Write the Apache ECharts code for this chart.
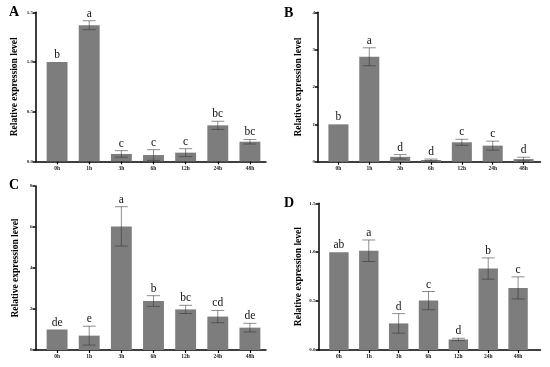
<!DOCTYPE html>
<html>
<head>
<meta charset="utf-8">
<script src="https://cdn.jsdelivr.net/npm/echarts@6/dist/echarts.min.js"></script>
<style>html,body{margin:0;padding:0;background:#fff}#c{width:550px;height:367px}</style>
</head>
<body>
<div id="c"></div>
<script>
const categories = ['0h', '1h', '3h', '6h', '12h', '24h', '48h'];

const valuesA = [1.0, 1.37, 0.074, 0.063, 0.087, 0.362, 0.197];
const errorsA = [0, 0.045, 0.033, 0.054, 0.04, 0.041, 0.023];
const lettersA = ['b', 'a', 'c', 'c', 'c', 'bc', 'bc'];

const valuesB = [1.0, 2.81, 0.13, 0.045, 0.52, 0.43, 0.07];
const errorsB = [0, 0.24, 0.06, 0.025, 0.08, 0.12, 0.05];
const lettersB = ['b', 'a', 'd', 'd', 'c', 'c', 'd'];

const valuesC = [1.0, 0.70, 6.03, 2.39, 1.98, 1.63, 1.09];
const errorsC = [0, 0.46, 0.96, 0.26, 0.2, 0.3, 0.21];
const lettersC = ['de', 'e', 'a', 'b', 'bc', 'cd', 'de'];

const valuesD = [1.0, 1.015, 0.272, 0.505, 0.108, 0.833, 0.635];
const errorsD = [0, 0.11, 0.10, 0.093, 0.012, 0.109, 0.113];
const lettersD = ['ab', 'a', 'd', 'c', 'd', 'b', 'c'];

const yTicksA = { min: 0, max: 1.5, interval: 0.5, digits: 1 };
const yTicksB = { min: 0, max: 4, interval: 1, digits: 0 };
const yTicksC = { min: 0, max: 8, interval: 2, digits: 0 };
const yTicksD = { min: 0, max: 1.5, interval: 0.5, digits: 1 };

const panelLabels = ['A', 'B', 'C', 'D'];
const yTitle = 'Relative expression level';

const panels = [
  { values: valuesA, errors: errorsA, letters: lettersA, ticks: yTicksA },
  { values: valuesB, errors: errorsB, letters: lettersB, ticks: yTicksB },
  { values: valuesC, errors: errorsC, letters: lettersC, ticks: yTicksC },
  { values: valuesD, errors: errorsD, letters: lettersD, ticks: yTicksD }
];

const FONT = '"Liberation Serif", "DejaVu Serif", serif';
// plotting grids (bands)
const grids = [
  { left: 41, top: 12.3, width: 225, height: 149 },
  { left: 323, top: 12.3, width: 216, height: 149.4 },
  { left: 41, top: 186, width: 225, height: 164 },
  { left: 324, top: 203.3, width: 209, height: 146.7 }
];
// frame grids: span of the drawn axis lines
const frames = [
  { left: 36, top: 12.3, width: 230, height: 149 },
  { left: 318, top: 12.3, width: 222.5, height: 149.4 },
  { left: 35.5, top: 186, width: 230.5, height: 164 },
  { left: 318.5, top: 203.3, width: 222, height: 146.7 }
];
const yOffsets = [5, 5, 5.5, 5.5];
const nameGaps = [16, 14.5, 15, 15];
const titlePos = [
  { left: 9, top: 5 }, { left: 284, top: 6 }, { left: 9, top: 178 }, { left: 284, top: 196 }
];

const option = {
  backgroundColor: '#fff',
  animation: false,
  title: panelLabels.map((t, i) => ({
    text: t, left: titlePos[i].left, top: titlePos[i].top, padding: 0,
    textStyle: { fontFamily: FONT, fontWeight: 'bold', fontSize: 14, color: '#000' }
  })),
  grid: grids.concat(frames).map(g => Object.assign({ containLabel: false }, g)),
  xAxis: panels.map((p, i) => ({
    type: 'category', gridIndex: i, data: categories,
    axisLine: { show: false },
    axisTick: { show: true, alignWithLabel: true, length: 3, lineStyle: { color: '#000', width: 1.2 } },
    axisLabel: { fontFamily: FONT, fontWeight: 'bold', fontSize: 5.5, color: '#222', margin: 4 }
  })).concat(panels.map((p, i) => ({
    type: 'category', gridIndex: i + 4, data: categories,
    axisLine: { show: true, lineStyle: { color: '#000', width: 1.5 } },
    axisTick: { show: false }, axisLabel: { show: false }
  }))),
  yAxis: panels.map((p, i) => ({
    type: 'value', gridIndex: i, min: p.ticks.min, max: p.ticks.max, interval: p.ticks.interval,
    offset: yOffsets[i],
    name: yTitle, nameLocation: 'middle', nameGap: nameGaps[i],
    nameTextStyle: { fontFamily: FONT, fontWeight: 'bold', fontSize: 9.5, color: '#000' },
    axisLine: { show: true, lineStyle: { color: '#000', width: 1.5 } },
    axisTick: { show: true, length: 3, lineStyle: { color: '#000', width: 1.5 } },
    splitLine: { show: false },
    axisLabel: {
      fontFamily: FONT, fontWeight: 'bold', fontSize: 5, color: '#222', margin: 3,
      formatter: v => v.toFixed(p.ticks.digits)
    }
  })).concat(panels.map((p, i) => ({
    type: 'value', gridIndex: i + 4, min: p.ticks.min, max: p.ticks.max, show: false
  }))),
  series: []
};

panels.forEach((p, i) => {
  option.series.push({
    type: 'bar', xAxisIndex: i, yAxisIndex: i, data: p.values,
    barWidth: '65%',
    itemStyle: { color: '#7d7d7d' }
  });
  option.series.push({
    type: 'custom', xAxisIndex: i, yAxisIndex: i,
    data: p.values.map((v, k) => [k, v, p.errors[k]]),
    z: 5,
    renderItem: function (params, api) {
      const k = api.value(0), v = api.value(1), e = api.value(2);
      const top = api.coord([k, v + e]);
      const bot = api.coord([k, v - e]);
      const cap = 6.5;
      const children = [];
      if (e > 0) {
        const st = { stroke: 'rgba(50,50,50,0.55)', lineWidth: 1 };
        children.push({ type: 'line', shape: { x1: top[0], y1: top[1], x2: bot[0], y2: bot[1] }, style: st });
        children.push({ type: 'line', shape: { x1: top[0] - cap, y1: top[1], x2: top[0] + cap, y2: top[1] }, style: st });
        children.push({ type: 'line', shape: { x1: bot[0] - cap, y1: bot[1], x2: bot[0] + cap, y2: bot[1] }, style: st });
      }
      children.push({
        type: 'text',
        style: {
          text: p.letters[params.dataIndex], x: top[0], y: top[1] - 7,
          align: 'center', verticalAlign: 'middle',
          font: '11.5px ' + FONT, fill: '#111'
        }
      });
      return { type: 'group', children: children };
    }
  });
});

const chart = echarts.init(document.getElementById('c'), null, { renderer: 'canvas' });
chart.setOption(option);
</script>
</body>
</html>
